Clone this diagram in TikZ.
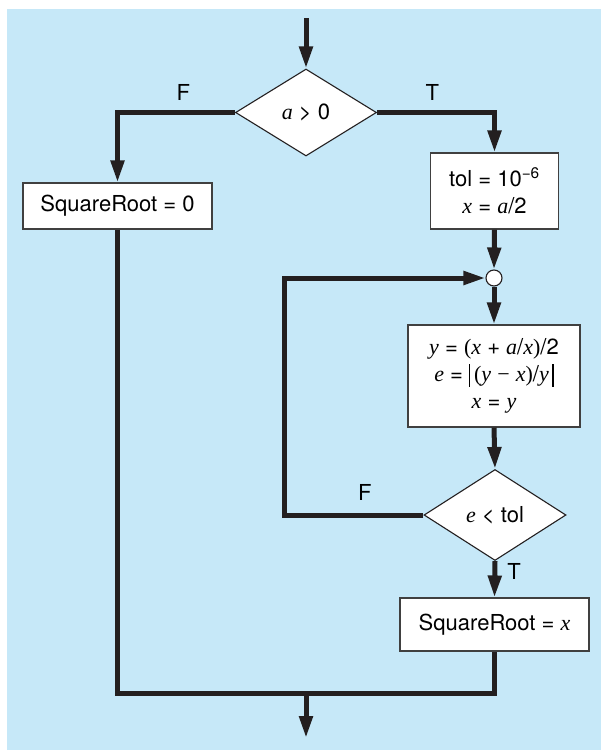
\documentclass[tikz,border=0pt]{standalone}
\usepackage{fontspec}
\setmainfont{TeX Gyre Heros}
\newfontfamily\tmsfont{Liberation Serif}
\newcommand{\flowvar}[1]{{\tmsfont\itshape #1}}
\newcommand{\absbar}{\rule[-5pt]{1.3pt}{23pt}}
\definecolor{PanelBlue}{RGB}{198,232,248}
\definecolor{FlowBlack}{RGB}{35,31,32}
\usetikzlibrary{arrows.meta, shapes.geometric, positioning}

\begin{document}
\begin{tikzpicture}[x=1pt, y=-1pt,
    every node/.style={font=\fontsize{22}{27}\selectfont},
    procbox/.style={draw=black!75, fill=white, line width=1.1pt,
                    align=center, inner sep=0pt},
    decision/.style={diamond, draw=FlowBlack, fill=white, line width=1.1pt,
                     inner sep=0pt},
    flowline/.style={draw=FlowBlack, line width=5pt},
    flow/.style={flowline, -{Triangle[length=22pt, width=13pt]}},
    lbl/.style={inner sep=2pt}]
  \useasboundingbox (0,0) rectangle (601,750);
  \fill[PanelBlue] (7,9) rectangle (601,750);

  % nodes
  \coordinate (entry) at (306,18);
  \node[decision, minimum width=141pt, minimum height=87pt] (posA) at (306,112.5)
    {\flowvar{a} > 0};
  \node[procbox, minimum width=189pt, minimum height=46pt] (zeroRoot) at (117.5,206)
    {SquareRoot = 0};
  \node[procbox, minimum width=128pt, minimum height=76pt] (init) at (494.5,191)
    {tol = 10\textsuperscript{−6}\\ \flowvar{x} = \flowvar{a}/2};
  \node[circle, draw=FlowBlack, fill=white, line width=1.1pt, inner sep=0pt,
        minimum size=16pt] (merge) at (494,278) {};
  \node[procbox, minimum width=172pt, minimum height=102pt] (update) at (494,376)
    {\flowvar{y} = {\tmsfont(}\flowvar{x} + \flowvar{a}/\flowvar{x}{\tmsfont)}/2\\
     \flowvar{e} = \absbar\,{\tmsfont(}\flowvar{y} {\tmsfont −} \flowvar{x}{\tmsfont)}/\flowvar{y}\,\absbar\\
     \flowvar{x} = \flowvar{y}};
  \node[decision, minimum width=142pt, minimum height=91pt] (conv) at (495,515)
    {\flowvar{e} < tol};
  \node[procbox, minimum width=189pt, minimum height=53pt] (xRoot) at (494.5,624.5)
    {SquareRoot = \flowvar{x}};
  \coordinate (loop) at (284,515);
  \coordinate (join) at (306,693);
  \coordinate (exit) at (306,738);

  % connectors
  \draw[flow] (entry) -- (posA.north);
  \draw[flow] (posA.west) -- node[lbl, above=8pt, pos=0.44] (negF) {F}
    (posA.west -| zeroRoot.north) -- (zeroRoot.north);
  \draw[flow] (posA.east) -- node[lbl, above=8pt, pos=0.47] (posT) {T}
    (posA.east -| init.north) -- (init.north);
  \draw[flow] (init.south) -- (merge.north);
  \draw[flow] (merge.south) -- (update.north);
  \draw[flow] (update.south) -- (conv.north);
  \draw[flow] (conv.west) -- node[lbl, above=10pt, pos=0.42] (convF) {F}
    (loop) |- (merge.west);
  \draw[flow] (conv.south) -- node[lbl, right=8pt, pos=0.3] (convT) {T} (xRoot.north);
  \draw[flowline] (zeroRoot.south) |- (join) -| (xRoot.south);
  \draw[flow] (join) -- (exit);
\end{tikzpicture}
\end{document}
